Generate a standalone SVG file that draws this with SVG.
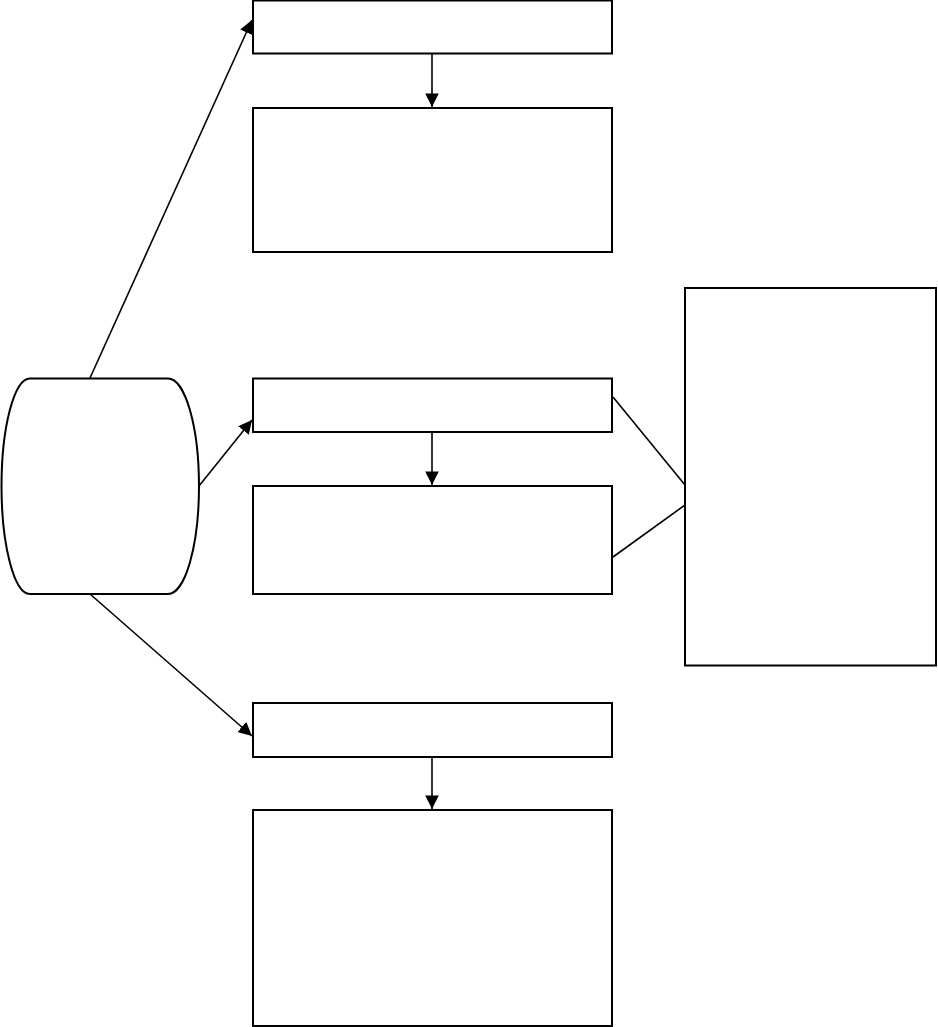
<svg xmlns="http://www.w3.org/2000/svg" width="938" height="1027" viewBox="0 0 938 1027">
<style>
.box{fill:#fff;stroke:#000;stroke-width:2}
.ln{fill:none;stroke:#000;stroke-width:1.6}
</style>
<defs>
<marker id="ah" viewBox="0 0 10 10" refX="10" refY="5" markerWidth="8.5" markerHeight="8.5" markerUnits="strokeWidth" orient="auto">
<path d="M0,0 L10,5 L0,10 z" fill="#000"/>
</marker>
</defs>
<rect width="938" height="1027" fill="#fff"/>
<g id="cyl"><path class="box" d="M30,378.5 L168,378.5 A31,107.75 0 0 1 168,594 L30,594 A28.5,107.75 0 0 1 30,378.5 z"/></g>
<g id="b1"><rect class="box" x="253" y="0.5" width="359" height="53"/></g>
<g id="b2"><rect class="box" x="253" y="108" width="359" height="144"/></g>
<g id="b3"><rect class="box" x="253" y="378.5" width="359" height="53.5"/></g>
<g id="b4"><rect class="box" x="253" y="486" width="359" height="108"/></g>
<g id="b5"><rect class="box" x="253" y="703" width="359" height="54"/></g>
<g id="b6"><rect class="box" x="253" y="810" width="359" height="216"/></g>
<g id="r1"><rect class="box" x="685" y="288" width="251" height="377.5"/></g>
<g id="connectors">
<line class="ln" x1="90" y1="378" x2="252" y2="20" marker-end="url(#ah)"/>
<line class="ln" x1="199" y1="486" x2="252" y2="420" marker-end="url(#ah)"/>
<line class="ln" x1="90" y1="594" x2="252" y2="736" marker-end="url(#ah)"/>
<line class="ln" x1="432" y1="54" x2="432" y2="107" marker-end="url(#ah)"/>
<line class="ln" x1="432" y1="432" x2="432" y2="485" marker-end="url(#ah)"/>
<line class="ln" x1="432" y1="757" x2="432" y2="809" marker-end="url(#ah)"/>
<line class="ln" x1="613" y1="397" x2="685" y2="485"/>
<line class="ln" x1="613" y1="557" x2="685" y2="505"/>
</g>
</svg>
